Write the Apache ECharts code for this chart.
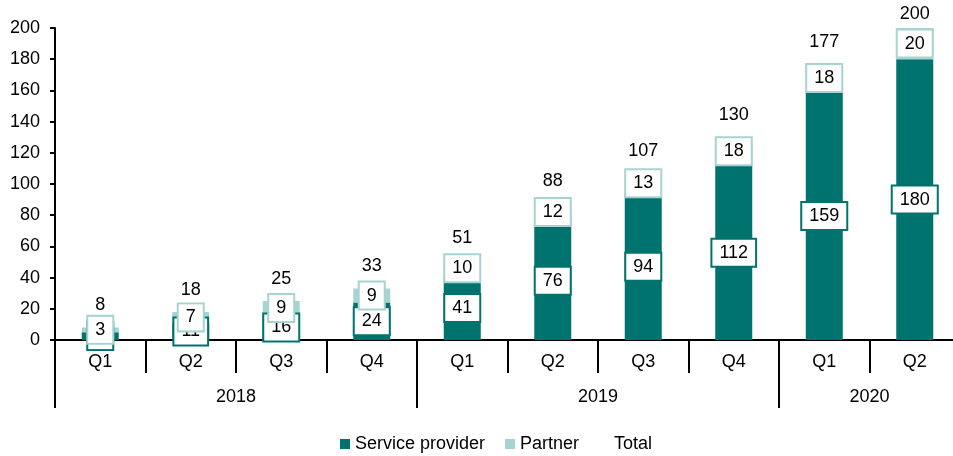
<!DOCTYPE html>
<html>
<head>
<meta charset="utf-8">
<script src="https://cdn.jsdelivr.net/npm/echarts@6/dist/echarts.min.js"></script>
<style>
  html, body { margin: 0; padding: 0; background: #fff; }
  #chart { width: 953px; height: 456px; }
</style>
</head>
<body>
<div id="chart"></div>
<script>
  const quarters = ["Q1", "Q2", "Q3", "Q4", "Q1", "Q2", "Q3", "Q4", "Q1", "Q2"];
  const years = ["2018", "2019", "2020"];
  const yearSpans = [4, 4, 2];
  const serviceProvider = [5, 11, 16, 24, 41, 76, 94, 112, 159, 180];
  const partner = [3, 7, 9, 9, 10, 12, 13, 18, 18, 20];
  const total = [8, 18, 25, 33, 51, 88, 107, 130, 177, 200];
  const yMax = 200;

  const dark = "#00736f";
  const light = "#a7d3d1";
  const font = "Liberation Sans";

  // year boundaries and label centres on a 0..n scale
  const yearEdges = [0];
  const yearCentres = {};
  yearSpans.forEach((s, i) => {
    const start = yearEdges[yearEdges.length - 1];
    yearCentres[start + s / 2] = years[i];
    yearEdges.push(start + s);
  });

  const boxLabel = (border) => ({
    show: true,
    position: "inside",
    color: "#000",
    fontFamily: font,
    fontSize: 18,
    lineHeight: 20,
    backgroundColor: "#fff",
    borderColor: border,
    borderWidth: 2,
    padding: [3, 7, 3, 7]
  });

  const chart = echarts.init(document.getElementById("chart"));
  chart.setOption({
    animation: false,
    textStyle: { fontFamily: font },
    grid: {
      left: 55,
      top: 28,
      width: 905,
      height: 312,
      containLabel: false,
      outerBoundsMode: "none"
    },
    legend: {
      left: 335,
      top: 430,
      itemWidth: 10,
      itemHeight: 10,
      itemGap: 20,
      textStyle: { fontSize: 18, color: "#000", fontFamily: font },
      data: [
        { name: "Service provider", icon: "rect" },
        { name: "Partner", icon: "rect" },
        { name: "Total", icon: "none" }
      ]
    },
    xAxis: [
      {
        type: "category",
        data: quarters,
        position: "bottom",
        axisLine: { lineStyle: { color: "#000", width: 2 } },
        axisTick: { show: true, interval: 0, length: 33, lineStyle: { color: "#000", width: 2 } },
        axisLabel: { interval: 0, color: "#000", fontSize: 18, margin: 13 }
      },
      {
        type: "value",
        min: 0,
        max: quarters.length,
        position: "bottom",
        axisLine: { show: false },
        splitLine: { show: false },
        axisTick: {
          show: true,
          customValues: yearEdges,
          length: 68,
          lineStyle: { color: "#000", width: 2 }
        },
        axisLabel: {
          customValues: Object.keys(yearCentres).map(Number),
          formatter: (v) => yearCentres[v] || "",
          color: "#000",
          fontSize: 18,
          margin: 48
        }
      }
    ],
    yAxis: {
      type: "value",
      min: 0,
      max: yMax,
      interval: 20,
      axisLine: { show: true, lineStyle: { color: "#000", width: 2 } },
      axisTick: { show: true, length: 5, lineStyle: { color: "#000", width: 2 } },
      axisLabel: { color: "#000", fontSize: 18, margin: 15 },
      splitLine: { show: false }
    },
    series: [
      {
        name: "Service provider",
        type: "bar",
        stack: "s",
        barWidth: 37,
        itemStyle: { color: dark },
        label: boxLabel(dark),
        data: serviceProvider
      },
      {
        name: "Partner",
        type: "bar",
        stack: "s",
        barWidth: 37,
        itemStyle: { color: light },
        label: boxLabel(light),
        data: partner
      },
      {
        name: "Total",
        type: "line",
        symbol: "circle",
        symbolSize: 0,
        lineStyle: { width: 0, opacity: 0 },
        itemStyle: { color: "rgba(0,0,0,0)" },
        label: {
          show: true,
          position: "top",
          distance: 13,
          color: "#000",
          fontSize: 18,
          fontFamily: font
        },
        // the label at the very top sits closer so it stays on the canvas
        data: total.map((v) => (v >= yMax ? { value: v, label: { distance: 5 } } : v))
      }
    ]
  });
</script>
</body>
</html>
